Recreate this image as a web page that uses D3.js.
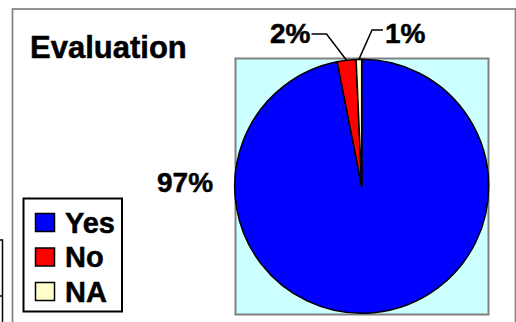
<!DOCTYPE html>
<html>
<head>
<meta charset="utf-8">
<script src="https://cdn.jsdelivr.net/npm/d3@7/dist/d3.min.js"></script>
<style>
  html, body { margin: 0; padding: 0; background: #fff; }
  svg { display: block; }
  text { font-family: "Liberation Sans", Arial, sans-serif; font-weight: bold; fill: #000;
         stroke: #000; stroke-width: 0.5; }
</style>
</head>
<body>
<svg id="chart" width="516" height="322"></svg>
<script>
// Survey answers, in percent
const categories = ["Yes", "No", "NA"];
const values = [96.9, 2.4, 0.7];
const colors = ["#0000FF", "#FF0000", "#FFFFCC"];
const title = "Evaluation";

const svg = d3.select("#chart");
svg.append("rect").attr("width", 516).attr("height", 322).attr("fill", "#fff");

// edge of a neighbouring table on the page
svg.append("path")
  .attr("d", "M0,240H2.5V330M0,296H2.5")
  .attr("fill", "none").attr("stroke", "#000").attr("stroke-width", 1.5);

// chart frame
svg.append("rect")
  .attr("x", 12.5).attr("y", 9).attr("width", 503).attr("height", 400)
  .attr("fill", "#fff").attr("stroke", "#808080").attr("stroke-width", 1.7);

// plot area
svg.append("rect")
  .attr("x", 235.5).attr("y", 58.5).attr("width", 253).attr("height", 256)
  .attr("fill", "#CCFFFF").attr("stroke", "#808080").attr("stroke-width", 2);

// title
svg.append("text").attr("x", 30).attr("y", 57.5)
  .attr("font-size", 31).text(title);

// pie
const cx = 361.7, cy = 186.3, r = 127;
const data = categories.map((c, i) => ({ name: c, value: values[i], color: colors[i] }));
const pie = d3.pie().sort(null).value(d => d.value).startAngle(0).endAngle(2 * Math.PI);
const arcs = pie(data);
const arc = d3.arc().innerRadius(0).outerRadius(r);
const edge = d3.arc().innerRadius(r).outerRadius(r);

const g = svg.append("g").attr("transform", `translate(${cx},${cy})`);
g.selectAll("path.slice").data(arcs).join("path")
  .attr("class", "slice")
  .attr("d", arc)
  .attr("fill", d => d.data.color)
  .attr("stroke", "#000").attr("stroke-width", 1.5)
  .attr("stroke-linejoin", "round");

// data labels
const pct = v => Math.round(v) + "%";
const labelPos = {
  Yes: { x: 157, y: 192, leader: null },
  No:  { x: 270, y: 43, leader: [[311.5, 34], [326.5, 34]] },
  NA:  { x: 385, y: 43, leader: [[383, 30], [372, 30]] }
};
arcs.forEach(a => {
  const p = labelPos[a.data.name];
  svg.append("text").attr("x", p.x).attr("y", p.y)
    .attr("font-size", 28).text(pct(a.data.value));
  if (p.leader) {
    const c = edge.centroid(a);
    const pts = p.leader.concat([[cx + c[0], cy + c[1]]]);
    svg.append("path")
      .attr("d", d3.line()(pts))
      .attr("fill", "none").attr("stroke", "#000").attr("stroke-width", 1.5);
  }
});

// legend
const lg = svg.append("g");
lg.append("rect")
  .attr("x", 23.5).attr("y", 198.5).attr("width", 98.5).attr("height", 113)
  .attr("fill", "#fff").attr("stroke", "#000").attr("stroke-width", 2);
const rowY = d3.scalePoint().domain(categories).range([213.5, 282.5]);
categories.forEach((c, i) => {
  lg.append("rect")
    .attr("x", 35.5).attr("y", rowY(c)).attr("width", 19).attr("height", 18)
    .attr("fill", colors[i]).attr("stroke", "#000").attr("stroke-width", 1.5);
  lg.append("text").attr("x", 65).attr("y", rowY(c) + 19)
    .attr("font-size", 29).text(c);
});
</script>
</body>
</html>
